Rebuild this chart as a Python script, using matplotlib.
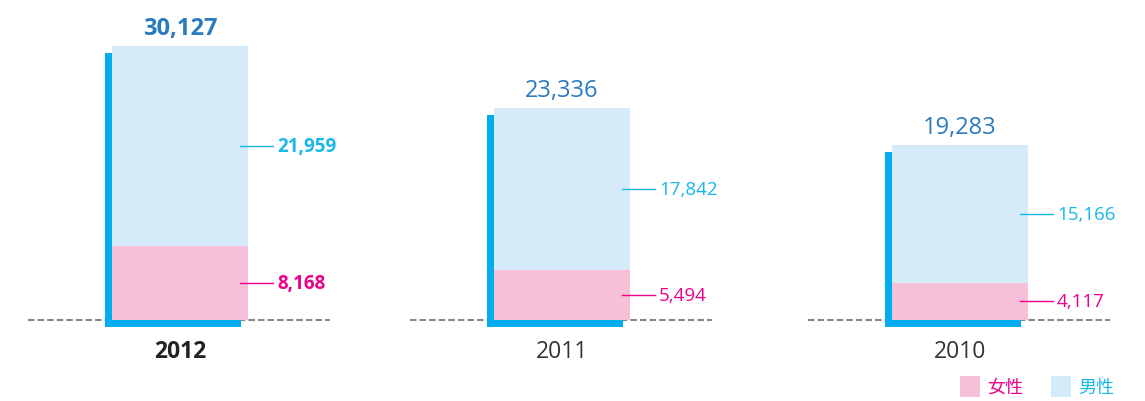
import matplotlib.pyplot as plt
from matplotlib.patches import Rectangle

plt.rcParams['font.family'] = ['Open Sans', 'Noto Sans CJK JP', 'DejaVu Sans']

years = ['2012', '2011', '2010']
female = [8168, 5494, 4117]
male = [21959, 17842, 15166]
totals = [30127, 23336, 19283]
highlight = [True, False, False]

# layout (pixel space along x)
centers = [180, 562, 960]
bar_w = 136
k = 0.0091          # px per person
base_px = 81        # baseline height from bottom, px
shadow = 7          # px

c_male = '#d5ebf9'
c_female = '#f6c1d8'
c_shadow = '#00aeef'
c_male_txt = '#1ab7ea'
c_female_txt = '#ec008c'
c_total = '#2a7abf'

fig = plt.figure(figsize=(11.45, 4.02), dpi=100)
ax = fig.add_axes([0, 0, 1, 1])
ax.set_xlim(0, 1145)
ax.set_ylim(-base_px / k, (402 - base_px) / k)
ax.axis('off')

s = shadow / k
for i, yr in enumerate(years):
    cx = centers[i]
    x0 = cx - bar_w / 2
    tot = female[i] + male[i]
    bold = 'bold' if highlight[i] else 'normal'

    ax.plot([cx - 152, cx + 150], [0, 0], color='#888888', lw=1.5,
            dashes=(3.1, 1.5), zorder=1)
    ax.add_patch(Rectangle((x0 - shadow, -s), bar_w, tot, color=c_shadow, lw=0, zorder=2))
    ax.bar(cx, female[i], width=bar_w, color=c_female, zorder=3)
    ax.bar(cx, male[i], bottom=female[i], width=bar_w, color=c_male, zorder=3)

    xr = x0 + bar_w
    for val, y, col in [(male[i], female[i] + male[i] / 2, c_male_txt),
                        (female[i], female[i] / 2, c_female_txt)]:
        ax.plot([xr - 8, xr + 25], [y, y], color=col, lw=1, zorder=4)
        ax.text(xr + 29, y, f'{val:,}', color=col, fontsize=13.5,
                fontweight=bold, va='center', ha='left')

    ax.annotate(f'{totals[i]:,}', (cx, tot), xytext=(0, 6), textcoords='offset pixels',
                ha='center', va='bottom', fontsize=17, fontweight=bold, color=c_total)
    ax.annotate(yr, (cx, 0), xytext=(0, -31), textcoords='offset pixels',
                ha='center', va='center', fontsize=16.5, fontweight=bold,
                color='#222222' if highlight[i] else '#333333')

# legend
for lx, col, tcol, lab in [(960, c_female, c_female_txt, '女性'),
                           (1051, c_male, c_male_txt, '男性')]:
    fig.patches.append(Rectangle((lx / 1145, 4 / 402), 20 / 1145, 21 / 402,
                                 transform=fig.transFigure, color=col, lw=0))
    fig.text((lx + 27) / 1145, 14.5 / 402, lab, color=tcol, fontsize=13, va='center', ha='left')

fig.savefig('out.png', dpi=100)
